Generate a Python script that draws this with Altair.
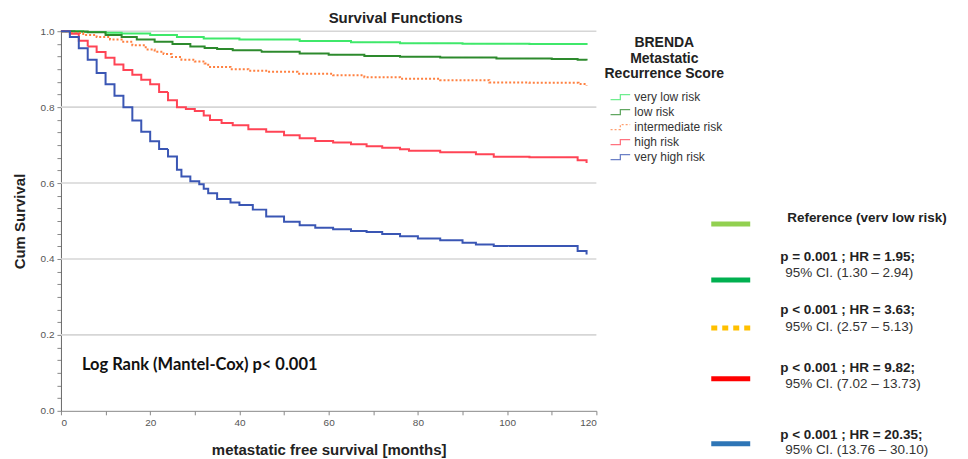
import altair as alt
import pandas as pd

groups = ["very low risk", "low risk", "intermediate risk", "high risk", "very high risk"]
curve_colors = ["#3fe86a", "#2d8a2d", "#ff8040", "#ff4455", "#3a56b4"]

vlow_m = [0, 5, 10, 13.6, 20, 26, 32, 40, 53.5, 65, 76, 90, 105, 117.8]
vlow_s = [1.0, 0.998, 0.996, 0.994, 0.99, 0.985, 0.981, 0.978, 0.974, 0.971, 0.968, 0.967, 0.966, 0.964]

low_m = [0, 3, 6, 10, 13.6, 17, 21, 25, 29, 32.2, 35, 38.5, 45, 53.5, 60, 68, 76, 85, 97.6, 110, 115.8, 117.8]
low_s = [1.0, 0.999, 0.997, 0.99, 0.985, 0.978, 0.972, 0.966, 0.96, 0.956, 0.953, 0.95, 0.946, 0.941, 0.938, 0.935, 0.933, 0.931, 0.928, 0.927, 0.925, 0.923]

int_m = [0, 2, 5, 8, 11, 13.6, 16, 19, 21, 23, 24.8, 27, 30, 32.2, 33, 38, 42, 46, 53, 61, 68, 76, 85, 96, 105, 116, 117.8]
int_s = [1.0, 0.995, 0.99, 0.985, 0.978, 0.972, 0.963, 0.952, 0.946, 0.94, 0.932, 0.925, 0.92, 0.915, 0.906, 0.9, 0.896, 0.893, 0.888, 0.884, 0.879, 0.875, 0.871, 0.865, 0.864, 0.861, 0.857]

high_m = [0, 2, 4, 6, 8, 10, 12, 14, 16, 18, 20, 22, 24, 26, 28, 30, 32, 33.4, 36, 38.5, 42, 46, 50, 53.5, 57, 61, 65, 68.5, 72, 76, 78, 85, 93, 97, 105, 115.8, 117.8]
high_s = [1.0, 0.993, 0.975, 0.96, 0.945, 0.93, 0.912, 0.898, 0.885, 0.872, 0.86, 0.84, 0.818, 0.8, 0.795, 0.79, 0.778, 0.766, 0.758, 0.752, 0.742, 0.735, 0.726, 0.718, 0.711, 0.707, 0.702, 0.697, 0.693, 0.689, 0.685, 0.681, 0.676, 0.669, 0.668, 0.66, 0.653]

vhigh_m = [0, 2, 4, 6, 8, 10, 12, 14, 16, 18, 20, 22, 24, 26, 27, 29, 31, 32, 33, 35, 38, 40, 43, 46, 50, 53.5, 57, 61, 65, 68.5, 72, 76, 80, 85, 90, 93, 97, 105, 115.8, 117.8]
vhigh_s = [1.0, 0.985, 0.955, 0.925, 0.89, 0.86, 0.83, 0.8, 0.765, 0.735, 0.71, 0.69, 0.67, 0.635, 0.617, 0.605, 0.597, 0.585, 0.573, 0.558, 0.549, 0.542, 0.53, 0.512, 0.498, 0.489, 0.482, 0.478, 0.474, 0.471, 0.466, 0.46, 0.454, 0.449, 0.443, 0.438, 0.434, 0.434, 0.421, 0.412]

x_ticks = list(range(0, 121, 10))
y_ticks = [round(i / 30, 6) for i in range(31)]
y_grid = [0.2, 0.4, 0.6, 0.8, 1.0]

ref_colors = ["#92d050", "#00b050", "#ffc000", "#ff0000", "#2e75b6"]
ref_line1 = ["Reference (verv low risk)", "p = 0.001 ; HR = 1.95;", "p < 0.001 ; HR = 3.63;",
             "p < 0.001 ; HR = 9.82;", "p < 0.001 ; HR = 20.35;"]
ref_line2 = ["", "95% CI. (1.30 \u2013 2.94)", "95% CI. (2.57 \u2013 5.13)",
             "95% CI. (7.02 \u2013 13.73)", "95% CI. (13.76 \u2013 30.10)"]
logrank_text = "Log Rank (Mantel-Cox) p< 0.001"

rows = []
for g, ms, ss in zip(groups, [vlow_m, low_m, int_m, high_m, vhigh_m],
                     [vlow_s, low_s, int_s, high_s, vhigh_s]):
    for m, s in zip(ms, ss):
        rows.append({"group": g, "month": m, "surv": s})
df = pd.DataFrame(rows)

FONT = "Liberation Sans"
major = "abs(datum.value*5 - round(datum.value*5)) < 0.001"

x_enc = alt.X("month:Q", scale=alt.Scale(domain=[0, 120], nice=False, zero=False),
              axis=alt.Axis(values=x_ticks, labelExpr="datum.value % 20 == 0 ? datum.label : ''",
                            title="metastatic free survival [months]", grid=False,
                            labelOverlap=False,
                            labelFont=FONT, labelFontSize=10, labelColor="#555",
                            titleFont=FONT, titleFontSize=15, titleFontWeight="bold",
                            titleColor="#222", titlePadding=15, tickSize=4, tickColor="#888",
                            domainColor="#888", labelPadding=3))
y_axis = alt.Axis(values=y_ticks,
                  labelExpr=major + " ? format(datum.value, '.1f') : ''",
                  labelOverlap=False,
                  title="Cum Survival", grid=False,
                  labelFont=FONT, labelFontSize=10, labelColor="#555",
                  titleFont=FONT, titleFontSize=15, titleFontWeight="bold",
                  titleColor="#222", titlePadding=13, tickSize=4, tickColor="#888",
                  domainColor="#666", labelPadding=3)
y_scale = alt.Scale(domain=[0, 1], nice=False)

leg = alt.Legend(title=["BRENDA", "Metastatic", "Recurrence Score"], orient="none",
                 legendX=544, legendY=5, titleFont=FONT, titleFontSize=14,
                 titleFontWeight="bold", titleColor="#222", titleAlign="center",
                 titleAnchor="middle", titleLineHeight=15.5, titlePadding=8,
                 labelFont=FONT, labelFontSize=12, labelColor="#333", labelOffset=6,
                 symbolType="M-1.4,0.35H0V-0.35H1.4", symbolSize=196, symbolStrokeWidth=1.3,
                 symbolOpacity=0.75, symbolOffset=7, rowPadding=1, padding=0)

grid = alt.Chart(pd.DataFrame({"surv": y_grid})).mark_rule(color="#d6d6d6", strokeWidth=1.6).encode(
    y=alt.Y("surv:Q", scale=y_scale, axis=y_axis)
)

curves = alt.Chart(df).mark_line(interpolate="step-after", strokeWidth=2).encode(
    x=x_enc, y=alt.Y("surv:Q", scale=y_scale, axis=y_axis),
    color=alt.Color("group:N", scale=alt.Scale(domain=groups, range=curve_colors), legend=leg),
    strokeDash=alt.StrokeDash("group:N", scale=alt.Scale(domain=groups,
                              range=[[1, 0], [1, 0], [2, 2], [1, 0], [1, 0]]), legend=leg),
    order=alt.Order("month:Q"),
)

layers = [grid, curves]

logrank = alt.Chart(pd.DataFrame({"t": [logrank_text]})).mark_text(
    font="Lato", fontSize=16.5, fontWeight="bold", color="#111", align="left", baseline="middle"
).encode(x=alt.value(21), y=alt.value(334), text="t:N")
layers.append(logrank)

bar_y = [193, 249, 297, 348, 413]
line1_y = [187, 226, 279, 337, 404]
line2_y = [None, 242, 296, 353, 419]
for i in range(5):
    d = pd.DataFrame({"a": [ref_line1[i]], "b": [ref_line2[i]]})
    layers.append(alt.Chart(d).mark_rule(color=ref_colors[i], strokeWidth=5,
                                         strokeDash=[6, 5] if i == 2 else [1, 0]).encode(
        x=alt.value(651), x2=alt.value(690), y=alt.value(bar_y[i])))
    layers.append(alt.Chart(d).mark_text(font=FONT, fontSize=13.5, fontWeight="bold", color="#222",
                                         align="left", baseline="middle").encode(
        x=alt.value(727 if i == 0 else 720), y=alt.value(line1_y[i]), text="a:N"))
    if line2_y[i] is not None:
        layers.append(alt.Chart(d).mark_text(font=FONT, fontSize=13.5, color="#333",
                                             align="left", baseline="middle").encode(
            x=alt.value(725), y=alt.value(line2_y[i]), text="b:N"))

chart = alt.layer(*layers).properties(
    width=536, height=380,
    title=alt.TitleParams("Survival Functions", font=FONT, fontSize=15, fontWeight="bold",
                          color="#222", dx=67, offset=0),
    autosize=alt.AutoSizeParams(type="none"),
    padding={"left": 53, "top": 23, "right": 364, "bottom": 48},
).configure_view(stroke=None)

chart.save("out.html", embed_options={"renderer": "svg", "actions": False})
